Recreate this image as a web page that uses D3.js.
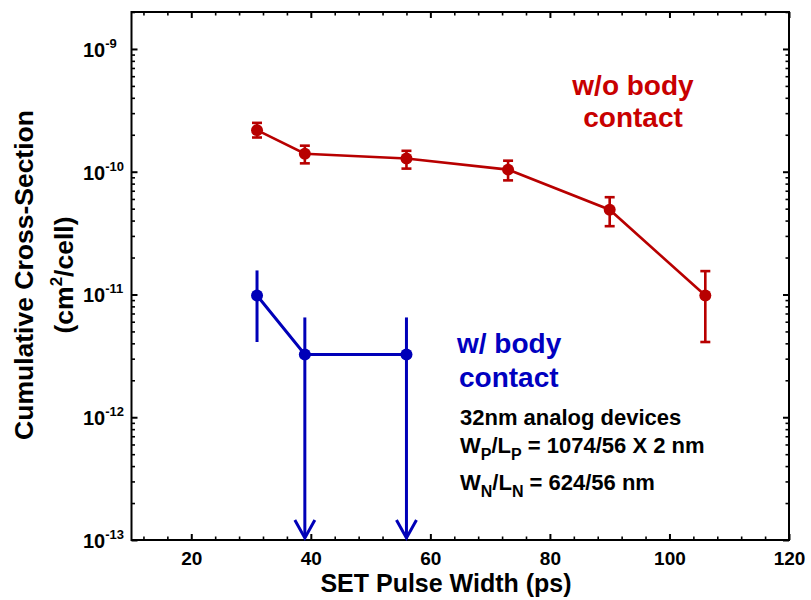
<!DOCTYPE html>
<html>
<head>
<meta charset="utf-8">
<script src="https://cdn.jsdelivr.net/npm/d3@7"></script>
<style>
  html, body { margin: 0; padding: 0; background: #fff; }
  svg { display: block; font-family: "Liberation Sans", Arial, Helvetica, sans-serif; font-weight: bold; }
</style>
</head>
<body>
<svg id="chart" width="811" height="600"></svg>
<script>
// SET pulse width (ps) for each measurement
const pulseWidth = [31, 39, 56, 73, 90, 106];
// Cumulative cross-section without body contact (cm^2/cell)
const noContact   = [2.18e-10, 1.40e-10, 1.28e-10, 1.04e-10, 4.9e-11, 9.8e-12];
const noContactHi = [2.50e-10, 1.63e-10, 1.48e-10, 1.23e-10, 6.2e-11, 1.55e-11];
const noContactLo = [1.90e-10, 1.17e-10, 1.06e-10, 8.5e-11, 3.6e-11, 4.1e-12];

// With body contact
const contactWidth   = [31, 39, 56];
const withContact    = [9.8e-12, 3.25e-12, 3.25e-12];
const withContactHi  = [1.57e-11, 6.5e-12, 6.5e-12];
const withContactLo  = [4.1e-12, 1e-13, 1e-13];
const upperLimitOnly = [false, true, true];   // arrows: bars reach the floor

// Axis ticks
const xMajor = [20, 40, 60, 80, 100, 120];
const xMinor = d3.range(12, 120, 4).filter(v => v % 20 !== 0);
const yDecades = [-13, -12, -11, -10, -9];

const svg = d3.select("#chart");
const plotL = 131.5, plotR = 789, plotT = 12, plotB = 540;

const x = d3.scaleLinear().domain([10, 120]).range([plotL, plotR]);
const y = d3.scaleLog().domain([1e-13, 2e-9]).range([plotB, plotT]);

const red = "#b80000", redText = "#c80000";
const blue = "#0000b8", blueText = "#0000c0";

// ---- axes (ticks point inward on all four sides) ----
const axisG = svg.append("g");

axisG.append("g").attr("transform", `translate(0,${plotB})`)
  .call(d3.axisBottom(x).tickValues(xMajor).tickSize(-6).tickPadding(16).tickFormat(d3.format("d")))
  .call(g => g.select(".domain").remove())
  .call(g => g.selectAll("line").attr("stroke-width", 2))
  .call(g => g.selectAll("text").attr("font-size", 19).attr("fill", "#000").attr("font-family", null).attr("dy", "0.45em"));
axisG.append("g").attr("transform", `translate(0,${plotB})`)
  .call(d3.axisBottom(x).tickValues(xMinor).tickSize(-3.5).tickFormat(""))
  .call(g => g.select(".domain").remove())
  .call(g => g.selectAll("line").attr("stroke-width", 1.6));

axisG.append("g").attr("transform", `translate(0,${plotT})`)
  .call(d3.axisTop(x).tickValues(xMajor).tickSize(-6).tickFormat(""))
  .call(g => g.select(".domain").remove())
  .call(g => g.selectAll("line").attr("stroke-width", 2));
axisG.append("g").attr("transform", `translate(0,${plotT})`)
  .call(d3.axisTop(x).tickValues(xMinor).tickSize(-3.5).tickFormat(""))
  .call(g => g.select(".domain").remove())
  .call(g => g.selectAll("line").attr("stroke-width", 1.6));

const yMajorVals = yDecades.map(e => Math.pow(10, e));
const yMinorVals = [];
yDecades.forEach(e => { for (let m = 2; m <= 9; m++) { const v = m * Math.pow(10, e); if (v <= 2e-9 && v >= 1e-13) yMinorVals.push(v); } });

[[d3.axisLeft, plotL], [d3.axisRight, plotR]].forEach(([ax, pos]) => {
  axisG.append("g").attr("transform", `translate(${pos},0)`)
    .call(ax(y).tickValues(yMajorVals).tickSize(-6).tickFormat(""))
    .call(g => g.select(".domain").remove())
    .call(g => g.selectAll("line").attr("stroke-width", 2));
  axisG.append("g").attr("transform", `translate(${pos},0)`)
    .call(ax(y).tickValues(yMinorVals).tickSize(-3.5).tickFormat(""))
    .call(g => g.select(".domain").remove())
    .call(g => g.selectAll("line").attr("stroke-width", 1.6));
});

// y tick labels as 10 with superscript exponent
const yLab = svg.append("g").selectAll("text").data(yDecades).join("text")
  .attr("x", 83).attr("y", d => y(Math.pow(10, d)) + 8)
  .attr("font-size", 20).attr("fill", "#000");
yLab.append("tspan").text("10");
yLab.append("tspan").attr("font-size", 13).attr("dy", -9).text(d => String(d));

// frame
svg.append("rect").attr("x", plotL).attr("y", plotT).attr("width", plotR - plotL).attr("height", plotB - plotT)
  .attr("fill", "none").attr("stroke", "#000").attr("stroke-width", 2);

// ---- series: without body contact ----
const redG = svg.append("g");
redG.append("path").datum(pulseWidth.map((p, i) => [p, noContact[i]]))
  .attr("fill", "none").attr("stroke", red).attr("stroke-width", 2.6)
  .attr("d", d3.line().x(d => x(d[0])).y(d => y(d[1])));
redG.append("g").selectAll("line").data(pulseWidth).join("line")
  .attr("x1", d => x(d)).attr("x2", d => x(d))
  .attr("y1", (d, i) => y(noContactHi[i])).attr("y2", (d, i) => y(noContactLo[i]))
  .attr("stroke", red).attr("stroke-width", 2.6);
[noContactHi, noContactLo].forEach(arr => {
  redG.append("g").selectAll("line").data(pulseWidth).join("line")
    .attr("x1", d => x(d) - 5).attr("x2", d => x(d) + 5)
    .attr("y1", (d, i) => y(arr[i])).attr("y2", (d, i) => y(arr[i]))
    .attr("stroke", red).attr("stroke-width", 2.6);
});
redG.append("g").selectAll("circle").data(pulseWidth).join("circle")
  .attr("cx", d => x(d)).attr("cy", (d, i) => y(noContact[i])).attr("r", 6)
  .attr("fill", red);

// ---- series: with body contact ----
const blueG = svg.append("g");
blueG.append("path").datum(contactWidth.map((p, i) => [p, withContact[i]]))
  .attr("fill", "none").attr("stroke", blue).attr("stroke-width", 3)
  .attr("d", d3.line().x(d => x(d[0])).y(d => y(d[1])));
blueG.append("g").selectAll("line").data(contactWidth).join("line")
  .attr("x1", d => x(d)).attr("x2", d => x(d))
  .attr("y1", (d, i) => y(withContactHi[i]))
  .attr("y2", (d, i) => upperLimitOnly[i] ? y(withContactLo[i]) - 2 : y(withContactLo[i]))
  .attr("stroke", blue).attr("stroke-width", 3);
blueG.append("g").selectAll("path").data(contactWidth.filter((d, i) => upperLimitOnly[i])).join("path")
  .attr("d", d => {
    const tx = x(d), ty = y(1e-13) - 2;
    return `M${tx - 10},${ty - 18} L${tx},${ty} L${tx + 10},${ty - 18}`;
  })
  .attr("fill", "none").attr("stroke", blue).attr("stroke-width", 3);
blueG.append("g").selectAll("circle").data(contactWidth).join("circle")
  .attr("cx", d => x(d)).attr("cy", (d, i) => y(withContact[i])).attr("r", 6)
  .attr("fill", blue);

// ---- annotations ----
svg.append("text").attr("x", 633).attr("y", 95).attr("text-anchor", "middle")
  .attr("font-size", 28).attr("fill", redText).text("w/o body");
svg.append("text").attr("x", 633).attr("y", 127).attr("text-anchor", "middle")
  .attr("font-size", 28).attr("fill", redText).text("contact");

svg.append("text").attr("x", 457).attr("y", 353)
  .attr("font-size", 28).attr("fill", blueText).text("w/ body");
svg.append("text").attr("x", 459).attr("y", 387)
  .attr("font-size", 28).attr("fill", blueText).text("contact");

svg.append("text").attr("x", 460).attr("y", 425).attr("font-size", 22).attr("fill", "#000")
  .text("32nm analog devices");
const t2 = svg.append("text").attr("x", 460).attr("y", 453).attr("font-size", 22).attr("fill", "#000");
t2.append("tspan").text("W");
t2.append("tspan").attr("font-size", 16).attr("dy", 7).text("P");
t2.append("tspan").attr("dy", -7).text("/L");
t2.append("tspan").attr("font-size", 16).attr("dy", 7).text("P");
t2.append("tspan").attr("dy", -7).text(" = 1074/56 X 2 nm");
const t3 = svg.append("text").attr("x", 460).attr("y", 490).attr("font-size", 22).attr("fill", "#000");
t3.append("tspan").text("W");
t3.append("tspan").attr("font-size", 16).attr("dy", 7).text("N");
t3.append("tspan").attr("dy", -7).text("/L");
t3.append("tspan").attr("font-size", 16).attr("dy", 7).text("N");
t3.append("tspan").attr("dy", -7).text(" = 624/56 nm");

// ---- axis titles ----
svg.append("text").attr("x", 446).attr("y", 592).attr("text-anchor", "middle")
  .attr("font-size", 25).attr("fill", "#000").text("SET Pulse Width (ps)");

const yt = svg.append("g").attr("transform", "translate(0,275) rotate(-90)");
yt.append("text").attr("x", 0).attr("y", 33).attr("text-anchor", "middle")
  .attr("font-size", 26.5).attr("fill", "#000").text("Cumulative Cross-Section");
const yt2 = yt.append("text").attr("x", 0).attr("y", 73).attr("text-anchor", "middle")
  .attr("font-size", 26.5).attr("fill", "#000");
yt2.append("tspan").text("(cm");
yt2.append("tspan").attr("font-size", 17).attr("dy", -11).text("2");
yt2.append("tspan").attr("dy", 11).text("/cell)");
</script>
</body>
</html>
